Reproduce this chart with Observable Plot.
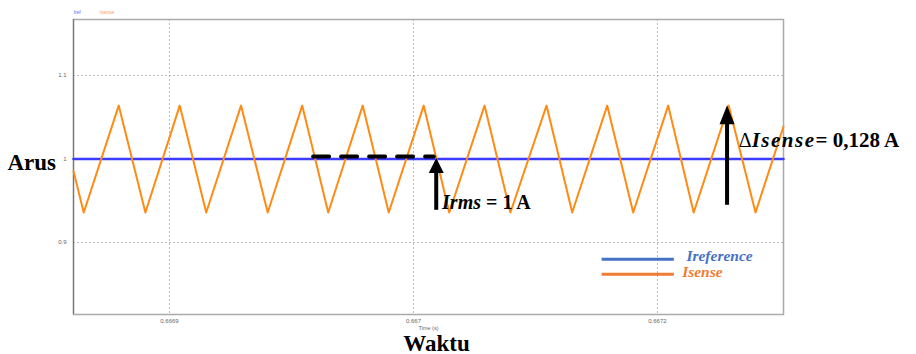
<!DOCTYPE html>
<html><head><meta charset="utf-8">
<script src="https://cdn.jsdelivr.net/npm/d3@7"></script>
<script src="https://cdn.jsdelivr.net/npm/@observablehq/plot@0.6"></script>
<style>html,body{margin:0;padding:0;background:#fff}#chart svg{display:block;overflow:visible}</style>
</head><body><div id="chart"></div>
<script>
// ---- data ----
const isenseTime = [0.6668410, 0.6668473, 0.6668688, 0.6668852, 0.6669063, 0.6669226, 0.6669440, 0.6669604,
  0.6669816, 0.6669976, 0.6670188, 0.6670348, 0.6670563, 0.6670720, 0.6670937, 0.6671096, 0.6671318,
  0.6671476, 0.6671691, 0.6671851, 0.6672066, 0.6672223, 0.6672438, 0.6672603, 0.6672775];
const isenseValue = [0.9855, 0.936, 1.064, 0.936, 1.064, 0.936, 1.064, 0.936,
  1.064, 0.936, 1.064, 0.936, 1.064, 0.936, 1.064, 0.936, 1.064,
  0.936, 1.064, 0.936, 1.064, 0.936, 1.064, 0.936, 1.039];
const irefTime = [0.6668410, 0.6672775];
const irefValue = [1, 1];
const seriesNames = ["Iref", "Isense"];
const legendNames = ["Ireference", "Isense"];
const xTicks = [0.66690, 0.66705, 0.66720];
const xTickLabels = ["0.6669", "0.667", "0.6672"];
const yTicks = [0.9, 1, 1.1];
const yTickLabels = ["0.9", "1", "1.1"];
const xDomain = [0.6668410, 0.6672775];
const yDomain = [0.8138, 1.1671];
const xAxisLabel = "Time (s)";
const xTitle = "Waktu";
const yTitle = "Arus";
// annotations (data coordinates)
const irmsText = "Irms = 1 A";
const deltaText = "ΔIsense= 0,128 A";
const dashLine = [{t: 0.6669883, v: 1.003}, {t: 0.6670625, v: 1.003}];
const irmsArrow = {t: 0.6670640, base: 0.9386, neck: 0.988, tip: 1.0012};
const deltaArrow = {t: 0.6672428, base: 0.9446, neck: 1.045, tip: 1.0643};
const irmsLabel = {t: 0.6670676, v: 0.9398};
const deltaLabel = {t: 0.6672500, v: 1.0144};
const legendLine = {t1: 0.6671660, t2: 0.6672104, v: [0.87988, 0.86192]};
const legendLabel = [{t: 0.6672178, v: 0.87784}, {t: 0.6672152, v: 0.85868}];

// ---- styles ----
const blue = "#3b3bff", orange = "#ff8a14";
const legBlue = "#4472c4", legOrange = "#ed7d31";
const serif = "'Liberation Serif','Times New Roman',serif";

const isense = isenseTime.map((t, i) => ({t, v: isenseValue[i]}));
const iref = irefTime.map((t, i) => ({t, v: irefValue[i]}));
const fmt = (ticks, labels) => d => labels[ticks.findIndex(v => Math.abs(v - d) < 1e-9)];

const head = (w, h) => ({draw(ctx) { ctx.moveTo(0, 0); ctx.lineTo(-w / 2, h); ctx.lineTo(w / 2, h); ctx.closePath(); }});

const plot = Plot.plot({
  width: 916, height: 354,
  marginLeft: 73, marginRight: 133, marginTop: 19, marginBottom: 40,
  x: {domain: xDomain},
  y: {domain: yDomain},
  style: {fontFamily: "'Liberation Sans',Arial,sans-serif", background: "#fff", overflow: "visible"},
  marks: [
    Plot.gridX(xTicks, {stroke: "#bbb", strokeOpacity: 1, strokeDasharray: "2,2"}),
    Plot.gridY(yTicks, {stroke: "#bbb", strokeOpacity: 1, strokeDasharray: "2,2"}),
    Plot.frame({stroke: "#aaa", strokeWidth: 1.5}),
    Plot.ruleX([xDomain[0]], {stroke: "#777", strokeWidth: 1.2}),
    Plot.axisX({ticks: xTicks, tickFormat: fmt(xTicks, xTickLabels), tickSize: 0, tickPadding: 4, fontSize: 6, fill: "#666", label: null}),
    Plot.axisY({ticks: yTicks, tickFormat: fmt(yTicks, yTickLabels), tickSize: 0, tickPadding: 7, fontSize: 6, fill: "#666", label: null}),
    Plot.line(iref, {x: "t", y: "v", stroke: blue, strokeWidth: 2.6}),
    Plot.line(isense, {x: "t", y: "v", stroke: orange, strokeWidth: 2, strokeLinejoin: "round"}),
    // tiny top legend
    Plot.text([seriesNames[0]], {frameAnchor: "top-left", dy: -7, lineAnchor: "middle", textAnchor: "start", fontSize: 5, fill: "#6464ff"}),
    Plot.text([seriesNames[1]], {frameAnchor: "top-left", dx: 26, dy: -7, lineAnchor: "middle", textAnchor: "start", fontSize: 5, fill: "#ffa050"}),
    Plot.text([xAxisLabel], {frameAnchor: "bottom", dy: 14, lineAnchor: "middle", fontSize: 5.5, fill: "#666"}),
    Plot.text([xTitle], {frameAnchor: "bottom", dx: 8, dy: 36, lineAnchor: "bottom", fontSize: 23, fontWeight: "bold", fontFamily: serif, fill: "#000"}),
    Plot.text([yTitle], {frameAnchor: "left", dx: -66, dy: -3.9, lineAnchor: "middle", textAnchor: "start", fontSize: 23, fontWeight: "bold", fontFamily: serif, fill: "#000"}),
    // annotations
    Plot.line(dashLine, {x: "t", y: "v", stroke: "#000", strokeWidth: 4, strokeDasharray: "16,12"}),
    Plot.ruleX([irmsArrow], {x: "t", y1: "base", y2: "neck", stroke: "#000", strokeWidth: 4}),
    Plot.dot([irmsArrow], {x: "t", y: "tip", symbol: head(15, 15), fill: "#000", stroke: "none"}),
    Plot.ruleX([deltaArrow], {x: "t", y1: "base", y2: "neck", stroke: "#000", strokeWidth: 4}),
    Plot.dot([deltaArrow], {x: "t", y: "tip", symbol: head(15, 19), fill: "#000", stroke: "none"}),
    Plot.text([irmsLabel], {x: "t", y: "v", text: () => irmsText, textAnchor: "start", lineAnchor: "bottom", fontSize: 20, fontWeight: "bold", fontFamily: serif, fill: "#000"}),
    Plot.text([deltaLabel], {x: "t", y: "v", text: () => deltaText, textAnchor: "start", lineAnchor: "bottom", fontSize: 21, fontWeight: "bold", fontFamily: serif, fill: "#000"}),
    // bottom-right legend
    Plot.ruleY([legendLine.v[0]], {x1: legendLine.t1, x2: legendLine.t2, stroke: legBlue, strokeWidth: 3}),
    Plot.ruleY([legendLine.v[1]], {x1: legendLine.t1, x2: legendLine.t2, stroke: legOrange, strokeWidth: 3}),
    Plot.text([legendLabel[0]], {x: "t", y: "v", text: () => legendNames[0], textAnchor: "start", lineAnchor: "bottom", fontSize: 15.5, fontWeight: "bold", fontStyle: "italic", fontFamily: serif, fill: legBlue}),
    Plot.text([legendLabel[1]], {x: "t", y: "v", text: () => legendNames[1], textAnchor: "start", lineAnchor: "bottom", fontSize: 15.5, fontWeight: "bold", fontStyle: "italic", fontFamily: serif, fill: legOrange})
  ]
});

function rich(svg, content, parts) {
  d3.select(svg).selectAll("text").filter(function() { return this.textContent === content; }).each(function() {
    const t = d3.select(this);
    t.text(null);
    parts.forEach(p => {
      const s = t.append("tspan").text(p.text);
      for (const k in (p.attr || {})) s.attr(k, p.attr[k]);
    });
  });
}
rich(plot, irmsText, [
  {text: "Irms", attr: {"font-style": "italic"}},
  {text: " = 1 A"}
]);
rich(plot, deltaText, [
  {text: "Δ", attr: {"font-weight": "normal", "font-size": 20}},
  {text: "Isense", attr: {"font-style": "italic", "letter-spacing": 1.5}},
  {text: "= 0,128 A"}
]);
document.getElementById("chart").append(plot);
</script>
</body></html>
